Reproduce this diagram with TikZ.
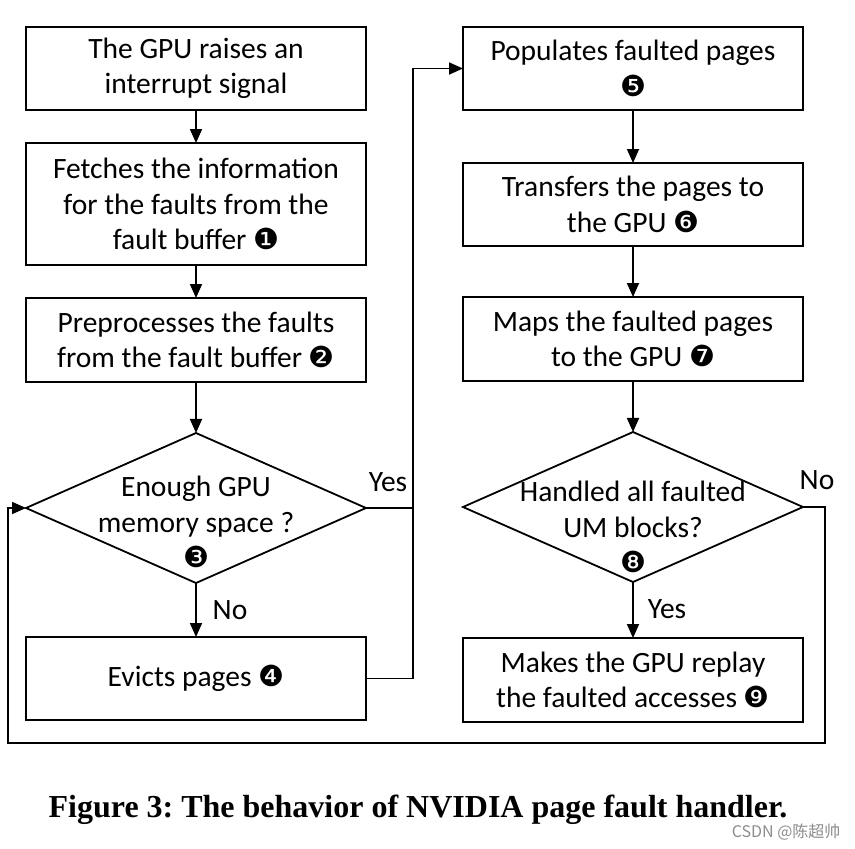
\documentclass[tikz,border=0pt]{standalone}
\usepackage{fontspec}
\setmainfont{Carlito}
\newfontfamily\dingfont{DejaVu Sans}
\newfontfamily\capfont{Liberation Serif}
\newfontfamily\cjkfont{Noto Sans CJK SC}
\usetikzlibrary{shapes.geometric, positioning, arrows.meta}
\newcommand{\stepno}[1]{{\dingfont\fontsize{29pt}{29pt}\selectfont #1}}
\tikzset{
>={Triangle[length=14pt,width=12pt]}, % filled arrow heads
every node/.style={font=\fontsize{29.5pt}{35.5pt}\selectfont},
stepbox/.style={draw, line width=1.8pt, minimum width=340pt, minimum height=83pt, align=center, inner sep=0pt, outer sep=0pt},
decision/.style={draw, diamond, line width=1.8pt, minimum width=340pt, minimum height=150pt, inner sep=0pt, outer sep=0pt},
flow/.style={line width=1.8pt},
}

\begin{document}
\begin{tikzpicture}[x=1pt,y=1pt]
  \useasboundingbox (0,0) rectangle (855,-849);

  % left column
  \node[stepbox] (b1) at (196,-68.5) {The GPU raises an\\interrupt signal};
  \node[stepbox, minimum height=122pt, below=33pt of b1] (b2) {Fetches the information\\for the faults from the\\fault buffer \stepno{❶}};
  \node[stepbox, minimum height=84pt, below=33pt of b2] (b3) {Preprocesses the faults\\from the fault buffer \stepno{❷}};
  \node[decision, below=51pt of b3] (d1) {};
  \node[align=center, yshift=-14pt] (d1text) at (d1) {Enough GPU\\memory space ?\\\stepno{❸}};
  \node[stepbox, below=54pt of d1] (b4) {Evicts pages \stepno{❹}};

  % right column
  \node[stepbox] (b5) at (633,-68.5) {Populates faulted pages\\\stepno{❺}};
  \node[stepbox, below=53pt of b5] (b6) {Transfers the pages to\\the GPU \stepno{❻}};
  \node[stepbox, minimum height=84pt, below=51pt of b6] (b7) {Maps the faulted pages\\to the GPU \stepno{❼}};
  \node[decision, below=51pt of b7] (d2) {};
  \node[align=center, yshift=-20pt] (d2text) at (d2) {Handled all faulted\\UM blocks?\\\stepno{❽}};
  \node[stepbox, minimum height=84pt, below=56pt of d2] (b9) {Makes the GPU replay\\the faulted accesses \stepno{❾}};

  % bends
  \coordinate (join) at (413,0);
  \coordinate (rjoin) at (825,-743);
  \coordinate (ljoin) at (8,-743);

  \draw[flow, ->] (b1) -- (b2);
  \draw[flow, ->] (b2) -- (b3);
  \draw[flow, ->] (b3) -- (d1);
  \draw[flow, ->] (d1) -- (b4);
  \draw[flow, ->] (b5) -- (b6);
  \draw[flow, ->] (b6) -- (b7);
  \draw[flow, ->] (b7) -- (d2);
  \draw[flow, ->] (d2) -- (b9);
  \draw[flow, ->] (d1.east) -- (d1.east -| join) |- (b5.west);
  \draw[flow] (b4.east) -- (b4.east -| join) -- (d1.east -| join);
  \draw[flow, ->] (d2.east) -| (rjoin) -- (ljoin) |- (d1.west);

  % branch labels
  \node (yes1) at (388,-482) {Yes};
  \node (no1) at (230,-610) {No};
  \node (no2) at (817,-480) {No};
  \node (yes2) at (667,-609) {Yes};

  % caption
  \node[font=\capfont\bfseries\fontsize{32pt}{34pt}\selectfont] (caption) at (418,-810) {\frenchspacing Figure 3: The behavior of NVIDIA page fault handler.};
  \node[font=\cjkfont\fontsize{16pt}{18pt}\selectfont, text=black!45, anchor=east] (mark) at (844,-832) {CSDN @陈超帅};
\end{tikzpicture}
\end{document}
